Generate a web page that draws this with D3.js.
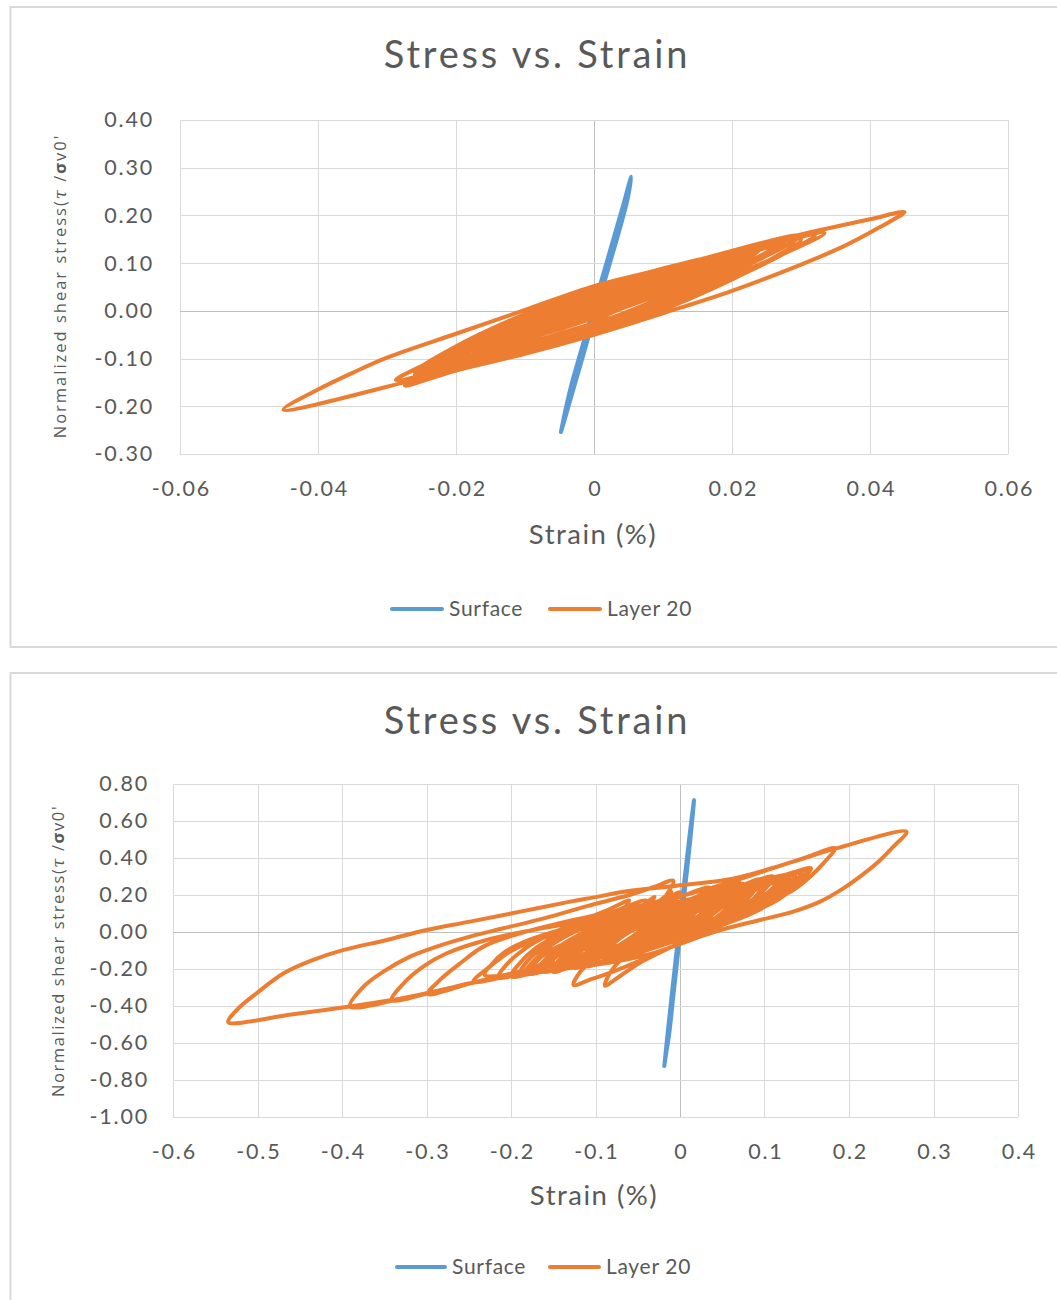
<!DOCTYPE html>
<html>
<head>
<meta charset="utf-8">
<script src="https://cdn.jsdelivr.net/npm/d3@7"></script>
<style>
  body { margin: 0; background: #ffffff; }
  svg { display: block; }
</style>
</head>
<body>
<svg id="chart" width="1057" height="1300"></svg>
<script>
// ---------- Upper chart: strain (%) vs normalized shear stress ----------
const topXTicks = [-0.06, -0.04, -0.02, 0, 0.02, 0.04, 0.06];
const topXTickLabels = ["-0.06", "-0.04", "-0.02", "0", "0.02", "0.04", "0.06"];
const topYTicks = [-0.3, -0.2, -0.1, 0, 0.1, 0.2, 0.3, 0.4];
const topYTickLabels = ["-0.30", "-0.20", "-0.10", "0.00", "0.10", "0.20", "0.30", "0.40"];

const topSurface = [
  [-0.0048,-0.254],[-0.0041,-0.205],[-0.0031,-0.145],[-0.0019,-0.085],[-0.0007,-0.025],[0.0005,0.035],[0.0017,0.095],[0.0029,0.155],[0.0041,0.215],[0.0054,0.281],
  [0.0048,0.230],[0.0036,0.165],[0.0023,0.100],[0.0011,0.040],[-0.0001,-0.020],[-0.0014,-0.085],[-0.0027,-0.150],[-0.0038,-0.205],[-0.0046,-0.245],
  [-0.0039,-0.200],[-0.0028,-0.140],[-0.0016,-0.080],[-0.0004,-0.020],[0.0008,0.040],[0.0020,0.100],[0.0032,0.160],[0.0044,0.225],[0.0051,0.265],
  [0.0044,0.215],[0.0032,0.150],[0.0020,0.090],[0.0008,0.030],[-0.0004,-0.030],[-0.0017,-0.095],[-0.0030,-0.160],[-0.0042,-0.225],[-0.0048,-0.254]
];

const topLayer20 = [
  [0.000,0.000],[0.003,0.022],[0.006,0.040],[0.010,0.060],
  [0.0078,0.042],[0.0034,0.0126],[-0.001,-0.0136],[-0.0065,-0.042],[-0.012,-0.068],
  [-0.009,-0.044],[-0.003,-0.005],[0.003,0.028],[0.0105,0.064],[0.018,0.095],
  [0.0142,0.066],[0.0066,0.0197],[-0.001,-0.020],[-0.0105,-0.062],[-0.020,-0.098],
  [-0.0154,-0.0635],[-0.0062,-0.007],[0.003,0.040],[0.0145,0.0895],[0.026,0.132],
  [0.0205,0.090],[0.0096,0.021],[-0.0014,-0.0355],[-0.015,-0.095],[-0.0287,-0.145],
  [-0.0225,-0.099],[-0.0101,-0.022],[0.0024,0.043],[0.0179,0.1076],[0.0334,0.163],
  [0.0256,0.1075],[0.0099,0.015],[-0.0058,-0.0646],[-0.0254,-0.142],[-0.045,-0.207],
  [-0.040,-0.165],[-0.035,-0.130],[-0.030,-0.098],[-0.020,-0.048],[-0.010,0.002],[0.000,0.052],[0.010,0.088],[0.020,0.124],[0.030,0.160],[0.040,0.192],[0.045,0.207],
  [0.041,0.172],[0.036,0.134],[0.030,0.097],[0.020,0.042],[0.010,-0.005],[0.000,-0.050],[-0.010,-0.090],[-0.020,-0.125],[-0.0274,-0.157],
  [-0.0217,-0.111],[-0.0104,-0.034],[0.001,0.030],[0.0151,0.095],[0.0293,0.150],
  [0.0249,0.1144],[0.016,0.0564],[0.0071,0.0078],[-0.004,-0.0432],[-0.0152,-0.087],
  [-0.0111,-0.0526],[-0.003,0.0035],[0.0052,0.0504],[0.0154,0.0997],[0.0256,0.142],
  [0.0208,0.105],[0.0113,0.0444],[0.0018,-0.0062],[-0.010,-0.0593],[-0.022,-0.105],
  [-0.0176,-0.0715],[-0.0088,-0.0169],[0.000,0.0288],[0.011,0.0768],[0.022,0.118],
  [0.0182,0.089],[0.0106,0.041],[0.003,0.000],[-0.0065,-0.044],[-0.016,-0.082],
  [-0.0129,-0.0578],[-0.0067,-0.0177],[-0.0005,0.0165],[0.0073,0.0533],[0.015,0.085],
  [0.0125,0.0647],[0.0075,0.0306],[0.0025,0.0009],[-0.0038,-0.0318],[-0.010,-0.060],
  [-0.0078,-0.0418],[-0.0034,-0.0112],[0.001,0.0154],[0.0065,0.0447],[0.012,0.070],
  [0.010,0.0539],[0.006,0.0269],[0.002,0.0033],[-0.003,-0.0226],[-0.008,-0.045],
  [-0.0066,-0.0331],[-0.0038,-0.0135],[-0.001,0.0039],[0.0025,0.0231],[0.006,0.040],
  [0.0045,0.030],[0.0015,0.010],[-0.001,-0.008],[-0.004,-0.025],
  [-0.0015,-0.0051],[0.0035,0.0277],[0.0085,0.0558],[0.0148,0.086],[0.021,0.112],
  [0.0165,0.0746],[0.0075,0.0138],[-0.0015,-0.035],[-0.0128,-0.0845],[-0.024,-0.122],
  [-0.0188,-0.0785],[-0.0084,-0.0078],[0.002,0.0494],[0.015,0.1065],[0.028,0.150],
  [0.0234,0.110],[0.0142,0.045],[0.005,-0.0075],[-0.0065,-0.060],[-0.018,-0.100],
  [-0.0146,-0.0715],[-0.0078,-0.0259],[-0.001,0.013],[0.0075,0.0549],[0.016,0.090],
  [0.012,0.062],[0.006,0.025],[0.000,-0.012],
  [-0.006,-0.040],[-0.012,-0.070],[-0.017,-0.095],[-0.022,-0.118],
  [-0.0168,-0.0738],[-0.0064,-0.0021],[0.004,0.0559],[0.017,0.1138],[0.030,0.158],
  [0.0244,0.1111],[0.0132,0.0349],[0.002,-0.0266],[-0.012,-0.0882],[-0.026,-0.135],
  [-0.021,-0.0955],[-0.011,-0.0298],[-0.001,0.0254],[0.0115,0.0807],[0.024,0.128],
  [0.0197,0.0902],[0.0111,0.0289],[0.0025,-0.0207],[-0.0083,-0.0702],[-0.019,-0.108],
  [-0.0151,-0.0728],[-0.0073,-0.0156],[0.0005,0.0306],[0.0103,0.0768],[0.020,0.112],
  [0.0166,0.0794],[0.0098,0.0275],[0.003,-0.0128],[-0.0055,-0.0512],[-0.014,-0.080],
  [-0.0094,-0.0419],[-0.0002,0.020],[0.009,0.0699],[0.0205,0.1199],[0.032,0.158],
  [0.0278,0.1218],[0.0194,0.0631],[0.011,0.0156],[0.0005,-0.0318],[-0.010,-0.068],
  [-0.008,-0.050],[-0.004,-0.022],[0.001,0.008],[0.008,0.040],
  [0.006,0.022],[0.002,-0.002],[-0.004,-0.030],
  [-0.010,-0.062],[-0.017,-0.093],[-0.026,-0.128],
  [-0.0207,-0.0798],[-0.0101,-0.0074],[0.0005,0.0489],[0.0138,0.1025],[0.027,0.140],
  [0.022,0.0932],[0.012,0.023],[0.002,-0.0316],[-0.0105,-0.0836],[-0.023,-0.120],
  [-0.0183,-0.075],[-0.0089,-0.0075],[0.0005,0.045],[0.0123,0.095],[0.024,0.130],
  [0.0195,0.0864],[0.0105,0.0211],[0.0015,-0.0297],[-0.0098,-0.0781],[-0.021,-0.112],
  [-0.0159,-0.0648],[-0.0057,0.0059],[0.0045,0.0609],[0.0173,0.1133],[0.030,0.150],
  [0.0245,0.0992],[0.0135,0.0231],[0.0025,-0.0361],[-0.0113,-0.0925],[-0.025,-0.132],
  [-0.0203,-0.0866],[-0.0109,-0.0186],[-0.0015,0.0343],[0.01025,0.0847],[0.022,0.120],
  [0.018,0.0808],[0.010,0.0219],[0.002,-0.0239],[-0.008,-0.0675],[-0.018,-0.098],
  [-0.0144,-0.062],[-0.0072,-0.008],[0.000,0.034],[0.009,0.074],[0.018,0.102],
  [0.0145,0.075],[0.008,0.030],[0.000,-0.020]
];

// ---------- Lower chart ----------
const bottomXTicks = [-0.6, -0.5, -0.4, -0.3, -0.2, -0.1, 0, 0.1, 0.2, 0.3, 0.4];
const bottomXTickLabels = ["-0.6", "-0.5", "-0.4", "-0.3", "-0.2", "-0.1", "0", "0.1", "0.2", "0.3", "0.4"];
const bottomYTicks = [-1.0, -0.8, -0.6, -0.4, -0.2, 0, 0.2, 0.4, 0.6, 0.8];
const bottomYTickLabels = ["-1.00", "-0.80", "-0.60", "-0.40", "-0.20", "0.00", "0.20", "0.40", "0.60", "0.80"];

const bottomSurface = [
  [-0.0186,-0.724],[-0.0145,-0.540],[-0.0095,-0.330],[-0.0045,-0.120],[0.0005,0.090],[0.0055,0.290],[0.0105,0.490],[0.0166,0.714],
  [0.0125,0.510],[0.0075,0.300],[0.0025,0.090],[-0.0025,-0.120],[-0.0075,-0.330],[-0.0125,-0.540],[-0.0170,-0.680],
  [-0.0130,-0.500],[-0.0080,-0.290],[-0.0030,-0.080],[0.0020,0.130],[0.0070,0.330],[0.0120,0.530],[0.0150,0.650],
  [0.0110,0.470],[0.0060,0.260],[0.0010,0.050],[-0.0040,-0.160],[-0.0090,-0.370],[-0.0140,-0.580],[-0.0186,-0.724]
];

const bottomLayer20 = [
  [0.000,0.050],[0.010,0.100],[0.025,0.130],[0.040,0.150],
  [0.030,0.090],[0.015,0.020],[-0.010,-0.040],[-0.035,-0.080],[-0.060,-0.110],
  [-0.050,-0.050],[-0.035,0.000],[-0.010,0.060],[0.020,0.115],[0.045,0.160],[0.070,0.210],
  [0.058,0.140],[0.040,0.070],[0.015,0.010],[-0.020,-0.050],[-0.060,-0.110],[-0.100,-0.170],
  [-0.088,-0.090],[-0.068,-0.020],[-0.040,0.040],[-0.005,0.100],[0.030,0.150],[0.065,0.200],[0.100,0.260],
  [0.088,0.185],[0.072,0.115],[0.050,0.050],[0.020,-0.020],[-0.015,-0.090],[-0.050,-0.160],[-0.080,-0.215],[-0.105,-0.255],[-0.126,-0.286],
  [-0.118,-0.215],[-0.105,-0.160],[-0.085,-0.105],[-0.055,-0.040],[-0.015,0.040],[0.030,0.130],[0.075,0.215],[0.110,0.275],[0.1366,0.317],
  [0.128,0.250],[0.115,0.190],[0.095,0.130],[0.065,0.065],[0.030,0.000],[-0.010,-0.080],[-0.045,-0.160],[-0.070,-0.235],[-0.0888,-0.290],
  [-0.082,-0.215],[-0.070,-0.150],[-0.050,-0.085],[-0.020,-0.010],[0.015,0.070],[0.050,0.150],[0.085,0.220],[0.120,0.285],[0.1538,0.339],
  [0.142,0.281],[0.126,0.227],[0.1026,0.164],[0.070,0.100],[0.030,0.035],[-0.020,-0.040],[-0.080,-0.120],[-0.140,-0.185],[-0.200,-0.235],[-0.2446,-0.268],
  [-0.225,-0.187],[-0.201,-0.106],[-0.170,-0.043],[-0.130,0.010],[-0.080,0.065],[-0.030,0.120],[0.020,0.175],[0.070,0.235],[0.120,0.300],
  [0.108,0.230],[0.090,0.165],[0.065,0.105],[0.030,0.045],[-0.015,-0.025],[-0.070,-0.100],[-0.130,-0.170],[-0.190,-0.225],[-0.245,-0.275],[-0.2985,-0.335],
  [-0.284,-0.259],[-0.260,-0.169],[-0.2327,-0.079],[-0.189,-0.007],[-0.140,0.050],[-0.090,0.100],[-0.040,0.150],[0.010,0.205],[0.060,0.270],[0.110,0.345],[0.150,0.405],[0.1834,0.452],
  [0.1696,0.371],[0.154,0.299],[0.134,0.227],[0.110,0.173],[0.079,0.119],[0.040,0.060],[0.000,0.000],[-0.050,-0.070],[-0.110,-0.145],[-0.170,-0.205],[-0.230,-0.258],[-0.290,-0.322],[-0.341,-0.368],
  [-0.327,-0.277],[-0.304,-0.187],[-0.276,-0.115],[-0.229,-0.043],[-0.180,0.005],[-0.120,0.055],[-0.060,0.110],[0.000,0.165],[0.060,0.225],[0.110,0.285],[0.155,0.344],
  [0.143,0.280],[0.125,0.215],[0.100,0.155],[0.060,0.090],[0.010,0.015],[-0.050,-0.070],[-0.120,-0.150],[-0.190,-0.215],[-0.260,-0.290],[-0.320,-0.350],[-0.3905,-0.402],
  [-0.3748,-0.296],[-0.351,-0.214],[-0.3195,-0.133],[-0.288,-0.079],[-0.2485,-0.025],[-0.209,0.020],[-0.160,0.075],[-0.110,0.140],[-0.060,0.200],[-0.030,0.245],[-0.008,0.277],
  [-0.016,0.200],[-0.030,0.110],[-0.050,0.030],[-0.080,-0.050],[-0.120,-0.130],[-0.165,-0.200],[-0.209,-0.245],[-0.250,-0.278],[-0.300,-0.334],[-0.343,-0.369],[-0.3905,-0.403],[-0.460,-0.446],[-0.5345,-0.487],
  [-0.5246,-0.422],[-0.501,-0.331],[-0.469,-0.223],[-0.434,-0.151],[-0.398,-0.097],[-0.347,-0.043],[-0.300,0.011],[-0.2485,0.056],[-0.189,0.110],[-0.130,0.164],[-0.102,0.187],[-0.063,0.220],[-0.004,0.250],[0.0552,0.282],[0.0947,0.326],[0.134,0.380],[0.185,0.452],[0.268,0.542],
  [0.2525,0.461],[0.2328,0.371],[0.213,0.299],[0.1933,0.236],[0.1657,0.164],[0.134,0.110],[0.0947,0.065],[0.0552,0.020],[0.0237,-0.025],[0.0118,-0.045],[-0.0316,-0.115],[-0.071,-0.155],[-0.130,-0.195],[-0.185,-0.222],[-0.231,-0.232],
  [-0.222,-0.170],[-0.208,-0.110],[-0.185,-0.055],[-0.150,0.000],[-0.100,0.060],[-0.050,0.115],[0.000,0.165],[0.050,0.215],[0.095,0.265],[0.130,0.310],
  [0.120,0.245],[0.105,0.185],[0.080,0.125],[0.045,0.065],[0.000,0.000],[-0.050,-0.070],[-0.100,-0.135],[-0.145,-0.190],[-0.180,-0.225],
  [-0.171,-0.165],[-0.157,-0.110],[-0.135,-0.060],[-0.100,-0.005],[-0.055,0.055],[-0.010,0.110],[0.035,0.165],[0.065,0.205],[0.090,0.245],
  [0.081,0.185],[0.067,0.130],[0.045,0.080],[0.010,0.020],[-0.035,-0.045],[-0.080,-0.110],[-0.120,-0.165],[-0.150,-0.205],
  [-0.142,-0.145],[-0.128,-0.090],[-0.105,-0.040],[-0.070,0.020],[-0.030,0.080],[0.010,0.140],[0.050,0.205],
  [0.042,0.150],[0.028,0.100],[0.005,0.050],[-0.030,-0.010],[-0.065,-0.070],[-0.095,-0.130],[-0.115,-0.175],
  [-0.108,-0.120],[-0.095,-0.070],[-0.072,-0.020],[-0.040,0.040],[-0.010,0.100],[0.020,0.170],
  [0.013,0.120],[0.000,0.075],[-0.020,0.020],[-0.045,-0.040],[-0.062,-0.095],[-0.075,-0.140],
  [-0.069,-0.090],[-0.057,-0.045],[-0.038,0.005],[-0.015,0.060],[0.010,0.120],
  [0.004,0.080],[-0.007,0.035],[-0.020,-0.015],[-0.040,-0.080],
  [-0.035,-0.040],[-0.025,-0.005],[-0.012,0.030],[0.000,0.060],
  [0.015,0.110],[0.035,0.160],[0.060,0.210],[0.085,0.255],
  [0.073,0.185],[0.053,0.100],[0.025,0.030],[-0.015,-0.040],[-0.065,-0.105],[-0.115,-0.160],[-0.170,-0.215],
  [-0.160,-0.150],[-0.140,-0.070],[-0.110,0.005],[-0.070,0.070],[-0.020,0.130],[0.020,0.180],[0.060,0.230],
  [0.048,0.165],[0.028,0.085],[0.000,0.015],[-0.040,-0.050],[-0.090,-0.115],[-0.145,-0.180],[-0.200,-0.240],
  [-0.190,-0.170],[-0.170,-0.085],[-0.140,-0.005],[-0.100,0.070],[-0.070,0.125],[-0.040,0.170],
  [-0.052,0.100],[-0.072,0.020],[-0.100,-0.060],[-0.130,-0.130],[-0.160,-0.190],
  [-0.150,-0.125],[-0.130,-0.045],[-0.100,0.030],[-0.060,0.095],[-0.010,0.155],[0.040,0.205],[0.080,0.250],[0.110,0.290],
  [0.098,0.220],[0.078,0.135],[0.050,0.065],[0.010,-0.005],[-0.040,-0.070],[-0.090,-0.125],[-0.140,-0.175],[-0.180,-0.215],[-0.215,-0.245],
  [-0.205,-0.175],[-0.185,-0.095],[-0.155,-0.015],[-0.115,0.065],[-0.085,0.120],[-0.060,0.170],
  [-0.072,0.100],[-0.092,0.020],[-0.120,-0.065],[-0.155,-0.150],[-0.190,-0.225],
  [-0.180,-0.155],[-0.160,-0.075],[-0.130,0.000],[-0.090,0.065],[-0.040,0.130],[0.000,0.190],[0.035,0.240],
  [0.023,0.170],[0.003,0.090],[-0.025,0.015],[-0.065,-0.065],[-0.105,-0.140],[-0.140,-0.200],
  [-0.130,-0.130],[-0.110,-0.050],[-0.080,0.020],[-0.040,0.085],[0.005,0.150],[0.045,0.210],[0.075,0.260],
  [0.063,0.190],[0.043,0.110],[0.015,0.035],[-0.025,-0.040],[-0.070,-0.115],[-0.110,-0.185],
  [-0.100,-0.115],[-0.080,-0.030],[-0.055,0.060],[-0.032,0.140],[-0.010,0.215],
  [-0.022,0.145],[-0.042,0.060],[-0.072,-0.030],[-0.102,-0.110],[-0.130,-0.180],
  [-0.120,-0.115],[-0.100,-0.040],[-0.070,0.030],[-0.030,0.105],[0.010,0.170],[0.040,0.225],
  [0.030,0.160],[0.012,0.080],[-0.015,0.000],[-0.050,-0.070],
  [-0.040,-0.010],[-0.020,0.060],[0.010,0.130],[0.050,0.195],[0.095,0.260],[0.145,0.330],
  [0.133,0.260],[0.113,0.175],[0.085,0.100],[0.045,0.030],[0.000,-0.040],[-0.040,-0.100],[-0.080,-0.150],
  [-0.070,-0.085],[-0.050,-0.005],[-0.020,0.070],[0.020,0.140],[0.070,0.225],[0.125,0.305],
  [0.113,0.235],[0.093,0.155],[0.065,0.085],[0.030,0.020],[0.000,-0.030],[-0.030,-0.080],[-0.060,-0.120],
  [-0.052,-0.060],[-0.035,0.000],[-0.010,0.070],[0.020,0.150],
  [0.040,0.190],[0.065,0.235],[0.095,0.285],
  [0.083,0.215],[0.063,0.130],[0.035,0.060],[-0.005,-0.010],[-0.055,-0.075],[-0.105,-0.130],[-0.150,-0.185],[-0.185,-0.230],
  [-0.175,-0.165],[-0.155,-0.080],[-0.125,0.000],[-0.085,0.075],[-0.045,0.135],[-0.015,0.185],[0.000,0.215],
  [-0.012,0.145],[-0.032,0.060],[-0.055,-0.020],[-0.080,-0.095],[-0.100,-0.150],
  [-0.090,-0.085],[-0.070,-0.005],[-0.040,0.070],[-0.005,0.140],[0.035,0.210],[0.070,0.270],
  [0.058,0.205],[0.040,0.130],[0.015,0.065],[-0.020,0.005],[-0.065,-0.060],[-0.110,-0.130],[-0.160,-0.215],
  [-0.150,-0.150],[-0.130,-0.070],[-0.100,0.010],[-0.060,0.080],[-0.010,0.145],[0.020,0.190],[0.045,0.240],
  [0.033,0.170],[0.013,0.090],[-0.015,0.015],[-0.055,-0.060],[-0.095,-0.135],[-0.125,-0.195],
  [-0.115,-0.130],[-0.095,-0.050],[-0.070,0.040],[-0.050,0.120],[-0.030,0.190],
  [-0.042,0.120],[-0.062,0.040],[-0.090,-0.045],[-0.115,-0.130],[-0.140,-0.205],
  [-0.130,-0.140],[-0.110,-0.060],[-0.080,0.020],[-0.040,0.090],[0.010,0.170],[0.060,0.255],
  [0.048,0.185],[0.028,0.100],[0.000,0.025],[-0.040,-0.050],[-0.075,-0.120],[-0.100,-0.175],
  [-0.090,-0.110],[-0.070,-0.030],[-0.040,0.050],[-0.005,0.130],[0.035,0.220],
  [0.023,0.150],[0.003,0.065],[-0.025,-0.005],[-0.065,-0.075],[-0.110,-0.150],[-0.150,-0.215],
  [-0.140,-0.150],[-0.120,-0.070],[-0.090,0.010],[-0.050,0.080],[0.000,0.140],[0.050,0.205],[0.110,0.300],
  [0.098,0.230],[0.078,0.145],[0.050,0.070],[0.015,0.000],[-0.020,-0.060],
  [-0.010,0.005],[0.010,0.085],[0.040,0.160],[0.080,0.230],[0.130,0.300],
  [0.118,0.230],[0.098,0.150],[0.070,0.080],[0.035,0.020],[0.000,-0.030],
  [0.010,0.035],[0.030,0.115],[0.060,0.190],[0.100,0.255],[0.150,0.330],
  [0.138,0.260],[0.118,0.180],[0.090,0.115],[0.055,0.055],[0.020,0.000],
  [0.030,0.060],[0.050,0.135],[0.070,0.200],[0.090,0.270],
  [0.078,0.200],[0.058,0.120],[0.030,0.050],[-0.005,-0.010],[-0.040,-0.060]
];

const chartTitle = "Stress vs. Strain";
const xAxisTitle = "Strain (%)";
const seriesNames = ["Surface", "Layer 20"];

// ---------- Styling ----------
const COLOR_SURFACE = "#5B9BD5";
const COLOR_LAYER = "#ED7D31";
const COLOR_TEXT = "#595959";
const COLOR_GRID = "#D9D9D9";
const COLOR_ZERO = "#BFBFBF";
const FONT_MAIN = "Lato, 'Open Sans', sans-serif";
const FONT_YTITLE = "'Open Sans', 'Noto Sans', sans-serif";
const LINE_W = 4;

const svg = d3.select("#chart");

function drawPanel(p) {
  // chart-area frame
  svg.append("rect")
    .attr("x", p.frame.x).attr("y", p.frame.y)
    .attr("width", p.frame.w).attr("height", p.frame.h)
    .attr("fill", "#ffffff")
    .attr("stroke", COLOR_GRID).attr("stroke-width", 2);

  const x = d3.scaleLinear().domain(p.xDomain).range([p.plot.left, p.plot.right]);
  const y = d3.scaleLinear().domain(p.yDomain).range([p.plot.bottom, p.plot.top]);

  const g = svg.append("g");

  // gridlines (zero lines drawn darker, on top)
  const grid = g.append("g");
  const vx = p.xTicks.slice().sort((a, b) => (a === 0) - (b === 0));
  const hy = p.yTicks.slice().sort((a, b) => (a === 0) - (b === 0));
  grid.selectAll("line.v").data(vx).join("line")
    .attr("class", "v")
    .attr("x1", d => Math.round(x(d)) + 0.5).attr("x2", d => Math.round(x(d)) + 0.5)
    .attr("y1", p.plot.top).attr("y2", p.plot.bottom)
    .attr("stroke", d => d === 0 ? COLOR_ZERO : COLOR_GRID).attr("stroke-width", 1);
  grid.selectAll("line.h").data(hy).join("line")
    .attr("class", "h")
    .attr("y1", d => Math.round(y(d)) + 0.5).attr("y2", d => Math.round(y(d)) + 0.5)
    .attr("x1", p.plot.left).attr("x2", p.plot.right)
    .attr("stroke", d => d === 0 ? COLOR_ZERO : COLOR_GRID).attr("stroke-width", 1);

  // axes (labels only)
  const xAxis = d3.axisBottom(x).tickValues(p.xTicks)
    .tickFormat((d, i) => p.xTickLabels[i]).tickSize(0).tickPadding(p.xTickPad);
  const yAxis = d3.axisLeft(y).tickValues(p.yTicks)
    .tickFormat((d, i) => p.yTickLabels[i]).tickSize(0).tickPadding(p.yTickPad);

  const gx = g.append("g").attr("transform", `translate(0,${p.plot.bottom})`).call(xAxis);
  const gy = g.append("g").attr("transform", `translate(${p.plot.left},0)`).call(yAxis);
  [gx, gy].forEach(a => {
    a.select(".domain").remove();
    a.selectAll("text").attr("fill", COLOR_TEXT)
      .style("font-family", FONT_MAIN).style("font-size", "21.5px")
      .style("letter-spacing", "1.8px");
  });
  gx.selectAll("text").attr("dx", "0.9px");

  // series
  const line = d3.line()
    .x(d => x(d[0])).y(d => y(d[1]))
    .curve(d3.curveCatmullRom.alpha(0.5));

  g.append("path").datum(p.surface)
    .attr("d", line).attr("fill", "none")
    .attr("stroke", COLOR_SURFACE).attr("stroke-width", LINE_W)
    .attr("stroke-linejoin", "round").attr("stroke-linecap", "round");

  g.append("path").datum(p.layer)
    .attr("d", line).attr("fill", "none")
    .attr("stroke", COLOR_LAYER).attr("stroke-width", LINE_W)
    .attr("stroke-linejoin", "round").attr("stroke-linecap", "round");

  // title
  svg.append("text")
    .attr("x", p.titleX).attr("y", p.titleY)
    .attr("text-anchor", "middle")
    .attr("fill", COLOR_TEXT)
    .style("font-family", FONT_MAIN).style("font-size", "38px")
    .style("letter-spacing", "2.8px")
    .text(chartTitle);

  // x axis title
  svg.append("text")
    .attr("x", p.xTitleX).attr("y", p.xTitleY)
    .attr("text-anchor", "middle")
    .attr("fill", COLOR_TEXT)
    .style("font-family", FONT_MAIN).style("font-size", "27.5px")
    .style("letter-spacing", "1.5px")
    .text(xAxisTitle);

  // y axis title
  const yt = svg.append("text")
    .attr("transform", `translate(${p.yTitleX},${p.yTitleY}) rotate(-90)`)
    .attr("text-anchor", "middle")
    .attr("fill", COLOR_TEXT)
    .style("font-family", FONT_YTITLE).style("font-size", "16.5px")
    .style("letter-spacing", p.yTitleSpacing + "px");
  yt.append("tspan").text("Normalized shear stress(");
  yt.append("tspan").style("font-style", "italic").style("font-family", "'DejaVu Serif', serif").text("τ");
  yt.append("tspan").text(" /");
  yt.append("tspan").style("font-weight", "bold").text("σ");
  yt.append("tspan").text("v0'");

  // legend
  const leg = svg.append("g");
  const items = [
    { name: seriesNames[0], color: COLOR_SURFACE, x0: p.legend[0][0], x1: p.legend[0][1], tx: p.legend[0][2] },
    { name: seriesNames[1], color: COLOR_LAYER, x0: p.legend[1][0], x1: p.legend[1][1], tx: p.legend[1][2] }
  ];
  items.forEach(it => {
    leg.append("line")
      .attr("x1", it.x0).attr("x2", it.x1)
      .attr("y1", p.legendY).attr("y2", p.legendY)
      .attr("stroke", it.color).attr("stroke-width", LINE_W).attr("stroke-linecap", "round");
    leg.append("text")
      .attr("x", it.tx).attr("y", p.legendY).attr("dy", "0.35em")
      .attr("fill", COLOR_TEXT)
      .style("font-family", FONT_MAIN).style("font-size", "21px")
      .style("letter-spacing", "0.7px")
      .text(it.name);
  });
}

drawPanel({
  frame: { x: 10.5, y: 7, w: 1070, h: 640 },
  plot: { left: 180, right: 1008, top: 120, bottom: 454 },
  xDomain: [-0.06, 0.06], yDomain: [-0.3, 0.4],
  xTicks: topXTicks, xTickLabels: topXTickLabels,
  yTicks: topYTicks, yTickLabels: topYTickLabels,
  xTickPad: 27, yTickPad: 26,
  surface: topSurface, layer: topLayer20,
  titleX: 537, titleY: 68,
  xTitleX: 593, xTitleY: 544,
  yTitleX: 66, yTitleY: 286, yTitleSpacing: 2.0,
  legendY: 609,
  legend: [[392, 442, 449], [550, 600, 607]]
});

drawPanel({
  frame: { x: 10.5, y: 673, w: 1070, h: 660 },
  plot: { left: 173, right: 1018, top: 784, bottom: 1117 },
  xDomain: [-0.6, 0.4], yDomain: [-1.0, 0.8],
  xTicks: bottomXTicks, xTickLabels: bottomXTickLabels,
  yTicks: bottomYTicks, yTickLabels: bottomYTickLabels,
  xTickPad: 27, yTickPad: 24,
  surface: bottomSurface, layer: bottomLayer20,
  titleX: 537, titleY: 734,
  xTitleX: 594, xTitleY: 1205,
  yTitleX: 64, yTitleY: 951, yTitleSpacing: 1.6,
  legendY: 1267,
  legend: [[397, 445, 452], [550, 599, 606]]
});
</script>
</body>
</html>
